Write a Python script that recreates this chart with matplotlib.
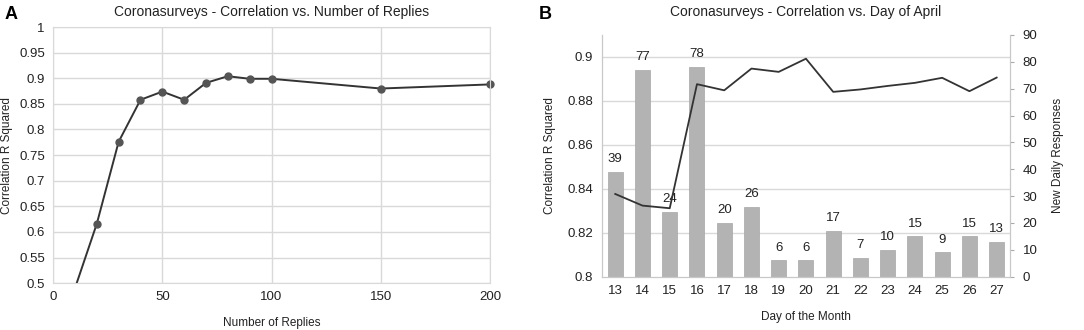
import numpy as np
import matplotlib.pyplot as plt

plt.rcParams['font.family'] = ['Liberation Sans', 'DejaVu Sans']

# Panel A data
replies = [10, 20, 30, 40, 50, 60, 70, 80, 90, 100, 150, 200]
corr_replies = [0.49, 0.616, 0.776, 0.858, 0.874, 0.858, 0.891, 0.904, 0.899, 0.899, 0.880, 0.888]

# Panel B data
days = [13, 14, 15, 16, 17, 18, 19, 20, 21, 22, 23, 24, 25, 26, 27]
corr_days = [0.8376, 0.8323, 0.8311, 0.8876, 0.8848, 0.8947, 0.8932, 0.8992,
             0.8841, 0.8852, 0.8868, 0.8882, 0.8905, 0.8844, 0.8906]
new_responses = [39, 77, 24, 78, 20, 26, 6, 6, 17, 7, 10, 15, 9, 15, 13]

grid_c = '#d9d9d9'
line_c = '#333333'
bar_c = '#b3b3b3'
text_c = '#222222'

fig = plt.figure(figsize=(10.84, 3.30), dpi=100)

# ---- Panel A ----
ax1 = fig.add_axes([0.049, 0.142, 0.403, 0.776])
ax1.plot(replies, corr_replies, color=line_c, lw=1.4)
# markers only for points inside the y range, not clipped at the frame
vis = [(r, c) for r, c in zip(replies, corr_replies) if c >= 0.5]
ax1.plot([v[0] for v in vis], [v[1] for v in vis], ls='none', marker='o', ms=5,
         markerfacecolor='#555555', markeredgecolor='#555555', clip_on=False)
ax1.set_xlim(0, 200)
ax1.set_ylim(0.5, 1)
ax1.set_xticks([0, 50, 100, 150, 200])
ax1.set_yticks(np.arange(0.5, 1.001, 0.05))
ax1.set_yticklabels(['0.5', '0.55', '0.6', '0.65', '0.7', '0.75', '0.8',
                     '0.85', '0.9', '0.95', '1'])
ax1.grid(True, color=grid_c, lw=1)
ax1.set_axisbelow(True)
for s in ax1.spines.values():
    s.set_color(grid_c)
ax1.tick_params(length=0, labelsize=9.5, colors=text_c, pad=6)
ax1.set_title('Coronasurveys - Correlation vs. Number of Replies', fontsize=10,
              color=text_c, pad=8)
ax1.set_xlabel('Number of Replies', fontsize=8.5, color=text_c, labelpad=10)
ax1.set_ylabel('Correlation R Squared', fontsize=8.5, color=text_c, labelpad=4)
fig.text(0.004, 0.955, 'A', fontsize=13, fontweight='bold', va='center')

# ---- Panel B ----
ax2 = fig.add_axes([0.555, 0.162, 0.377, 0.732])
ax3 = ax2.twinx()
x = np.arange(len(days))
ax3.bar(x, new_responses, width=0.55, color=bar_c, edgecolor='#a6a6a6', lw=0.5)
for xi, v in zip(x, new_responses):
    ax3.text(xi, v + 2.5, str(v), ha='center', va='bottom', fontsize=9.5, color=text_c)
ax3.set_ylim(0, 90)
ax3.set_yticks(range(0, 91, 10))
ax3.tick_params(axis='y', length=3, color='#aaaaaa', labelsize=9.5, colors=text_c, pad=6)
ax3.set_ylabel('New Daily Responses', fontsize=8.5, color=text_c, labelpad=10)

ax2.set_zorder(ax3.get_zorder() + 1)
ax2.patch.set_visible(False)
ax2.plot(x, corr_days, color=line_c, lw=1.3)
ax2.set_ylim(0.8, 0.91)
ax2.set_yticks([0.8, 0.82, 0.84, 0.86, 0.88, 0.9])
ax2.set_yticklabels(['0.8', '0.82', '0.84', '0.86', '0.88', '0.9'])
ax2.set_xlim(-0.5, len(days) - 0.5)
ax2.set_xticks(x)
ax2.set_xticklabels([str(d) for d in days])
ax2.tick_params(length=0, labelsize=9.5, colors=text_c, pad=6)
ax2.set_xlabel('Day of the Month', fontsize=8.5, color=text_c, labelpad=10)
ax2.set_ylabel('Correlation R Squared', fontsize=8.5, color=text_c, labelpad=8)
ax2.set_title('Coronasurveys - Correlation vs. Day of April', fontsize=10,
              color=text_c, pad=14)

# gridlines drawn on the bar axis so they sit behind bars
for gy in [0.82, 0.84, 0.86, 0.88, 0.9]:
    ax3.axhline((gy - 0.8) / 0.11 * 90, color=grid_c, lw=1, zorder=0)

for a in (ax2, ax3):
    a.spines['top'].set_visible(False)
    a.spines['left'].set_color('#c8c8c8')
    a.spines['bottom'].set_color('#c8c8c8')
    a.spines['right'].set_color('#c8c8c8')
fig.text(0.497, 0.955, 'B', fontsize=13, fontweight='bold', va='center')

fig.savefig('out.png', dpi=100)
